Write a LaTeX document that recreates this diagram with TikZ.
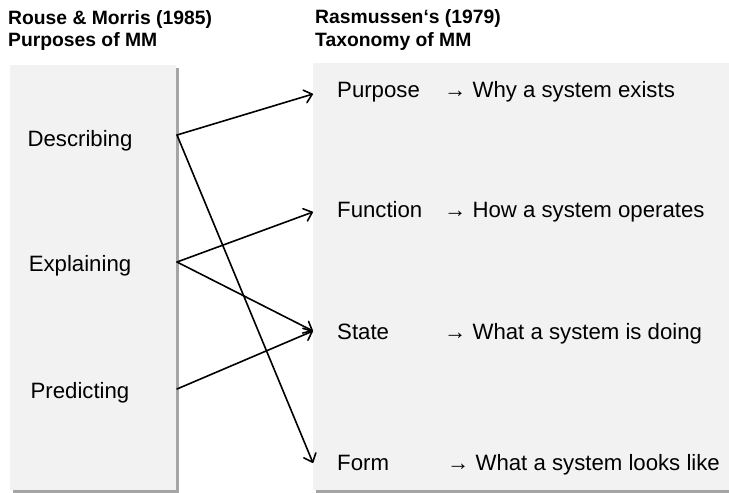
\documentclass[tikz,border=0pt]{standalone}
\usepackage{fontspec}
\setmainfont{Liberation Sans}
\usetikzlibrary{arrows.meta,shadows}
\definecolor{panel}{RGB}{242,242,242}
\definecolor{shade}{RGB}{165,165,165}
\begin{document}
\begin{tikzpicture}[x=1pt,y=-1pt,
  headtxt/.style={font=\bfseries\fontsize{19.3}{22}\selectfont, anchor=base west, inner sep=0pt},
  purposetxt/.style={font=\fontsize{22.2}{26}\selectfont, anchor=base, inner sep=0pt},
  levelname/.style={font=\fontsize{22.2}{26}\selectfont, anchor=base west, inner sep=0pt},
  leveldesc/.style={font=\fontsize{22.2}{26}\selectfont, anchor=base west, inner sep=0pt},
  panelbox/.style={fill=panel, draw=none, inner sep=0pt, anchor=north west,
    drop shadow={shadow xshift=3pt, shadow yshift=-3pt, fill=shade, opacity=1}},
  link/.style={line width=1.6pt, line cap=round,
    -{Straight Barb[length=7.5pt,width=13pt,line cap=round,line join=round]}}]
\useasboundingbox (0,0) rectangle (729,493);

% column headings
\node[headtxt] (h1a) at (8,24) {Rouse \& Morris (1985)};
\node[headtxt] (h1b) at (8,46) {Purposes of MM};
\node[headtxt] (h2a) at (315,23) {Rasmussen‘s (1979)};
\node[headtxt] (h2b) at (315,46) {Taxonomy of MM};

% the two grey panels
\node[panelbox, minimum width=166pt, minimum height=425pt] (lbox) at (10,65) {};
\node[panelbox, minimum width=420pt, minimum height=427pt] (rbox) at (313,63) {};

% purposes of mental models
\node[purposetxt] (describing) at (80,146) {Describing};
\node[purposetxt] (explaining) at (80,271) {Explaining};
\node[purposetxt] (predicting) at (80,398) {Predicting};

% taxonomy levels
\node[levelname] (purpose)  at (337,97.5)  {Purpose};
\node[levelname] (function) at (337,217.5) {Function};
\node[levelname] (state)    at (337,339)   {State};
\node[levelname] (form)     at (337,470.5) {Form};

\node[leveldesc] (purpose-d)  at (444,97.5)  {→ Why a system exists};
\node[leveldesc] (function-d) at (444,217.5) {→ How a system operates};
\node[leveldesc] (state-d)    at (444,339)   {→ What a system is doing};
\node[leveldesc] (form-d)     at (447,470.5) {→ What a system looks like};

% connector end points on the panel edges
\coordinate (d-out) at (177,135);
\coordinate (e-out) at (177,262);
\coordinate (p-out) at (177,389);
\coordinate (purpose-in)  at (313,94);
\coordinate (function-in) at (313,212);
\coordinate (state-in)    at (313,331);
\coordinate (form-in)     at (313,463);

% mapping of purposes onto levels
\draw[link] (d-out) -- (purpose-in);
\draw[link] (d-out) -- (form-in);
\draw[link] (e-out) -- (function-in);
\draw[link] (e-out) -- (state-in);
\draw[link] (p-out) -- (state-in);
\end{tikzpicture}
\end{document}
